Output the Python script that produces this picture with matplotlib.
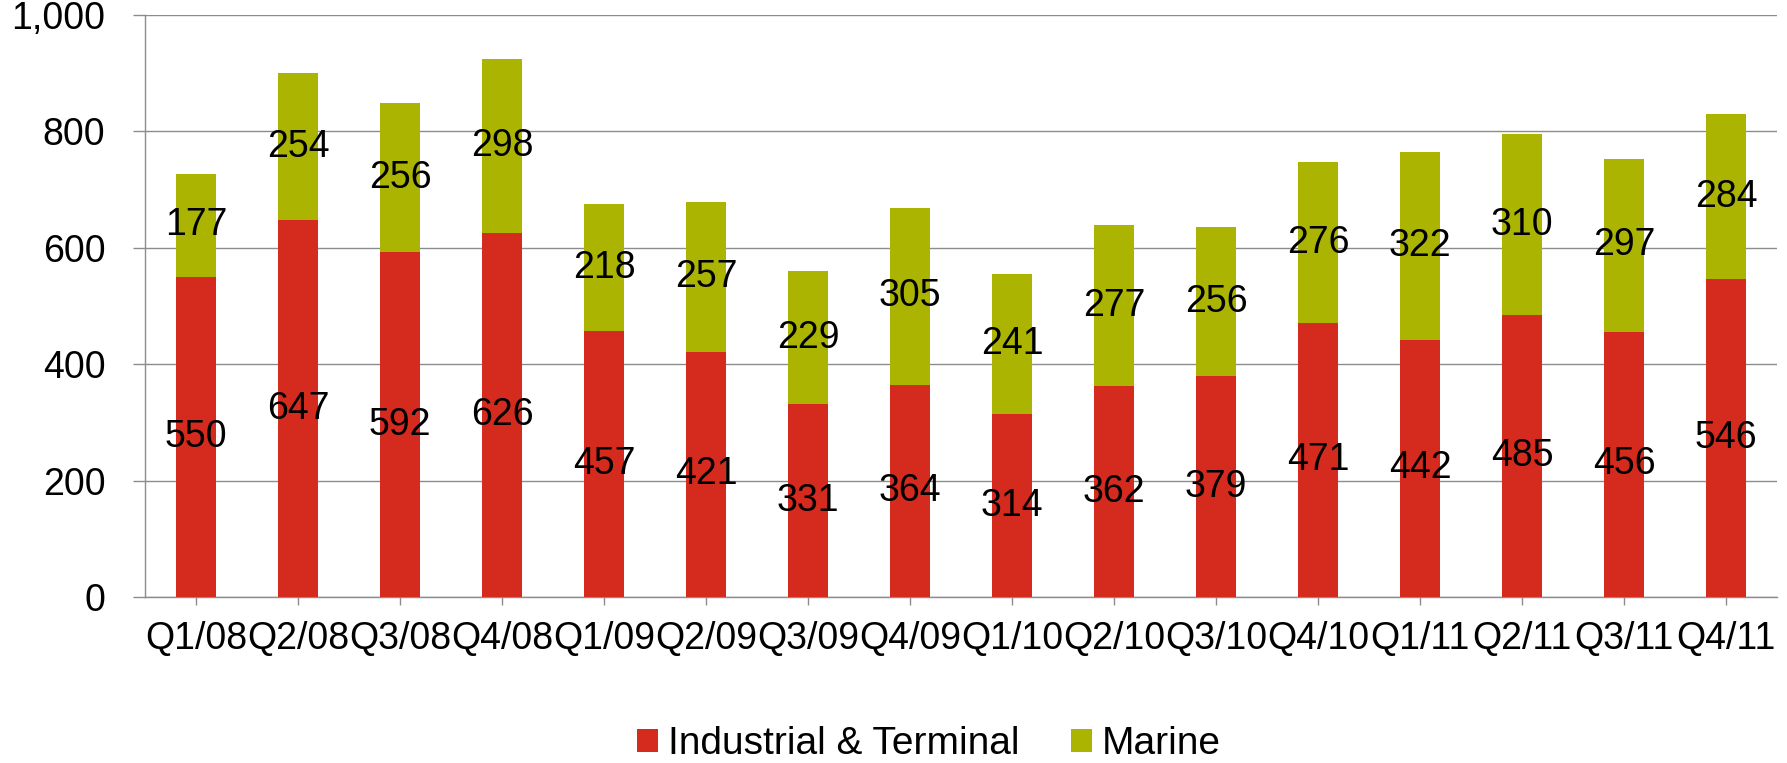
import matplotlib
matplotlib.use("Agg")
import matplotlib.pyplot as plt
import numpy as np

categories = ["Q1/08", "Q2/08", "Q3/08", "Q4/08", "Q1/09", "Q2/09", "Q3/09", "Q4/09",
              "Q1/10", "Q2/10", "Q3/10", "Q4/10", "Q1/11", "Q2/11", "Q3/11", "Q4/11"]
industrial = [550, 647, 592, 626, 457, 421, 331, 364, 314, 362, 379, 471, 442, 485, 456, 546]
marine = [177, 254, 256, 298, 218, 257, 229, 305, 241, 277, 256, 276, 322, 310, 297, 284]
yticks = [0, 200, 400, 600, 800, 1000]
ytick_labels = ["0", "200", "400", "600", "800", "1,000"]

RED = "#D52B1E"
GREEN = "#ABB400"
GRID = "#8C8C8C"
FS = 27

plt.rcParams['font.family'] = ['Liberation Sans', 'DejaVu Sans']

fig = plt.figure(figsize=(17.87, 7.63), dpi=100)
ax = fig.add_axes([145/1787, 1 - 597/763, (1777-145)/1787, (597-15)/763])

x = np.arange(len(categories))
w = 0.4
b1 = ax.bar(x, industrial, width=w, color=RED, label="Industrial & Terminal", zorder=3)
b2 = ax.bar(x, marine, width=w, bottom=industrial, color=GREEN, label="Marine", zorder=3)

for xi, v1, v2 in zip(x, industrial, marine):
    ax.text(xi, v1 / 2, str(v1), ha="center", va="center", fontsize=FS, color="black", zorder=4)
    ax.text(xi, v1 + v2 / 2, str(v2), ha="center", va="center", fontsize=FS, color="black", zorder=4)

ax.set_xlim(-0.5, len(categories) - 0.5)
ax.set_ylim(0, 1000)
ax.set_yticks(yticks)
ax.set_yticklabels(ytick_labels, fontsize=FS)
ax.set_xticks(x)
ax.set_xticklabels(categories, fontsize=FS)

ax.yaxis.grid(True, color=GRID, linewidth=1.0, zorder=0)
ax.set_axisbelow(True)
for s in ["top", "right"]:
    ax.spines[s].set_visible(False)
for s in ["left", "bottom"]:
    ax.spines[s].set_color(GRID)
    ax.spines[s].set_linewidth(1.0)
ax.tick_params(axis="y", length=8.6, width=1.0, color=GRID, pad=20)
ax.tick_params(axis="x", length=5.8, width=1.0, color=GRID, pad=11.5)

fig.legend(handles=[b1, b2], labels=["Industrial & Terminal", "Marine"],
           loc="center", bbox_to_anchor=(929/1787, 1 - 744/763), ncol=2, frameon=False,
           fontsize=28, handlelength=0.54, handleheight=0.54, handletextpad=0.26,
           columnspacing=1.3, borderpad=0, borderaxespad=0)

fig.savefig("out.png", dpi=100)
